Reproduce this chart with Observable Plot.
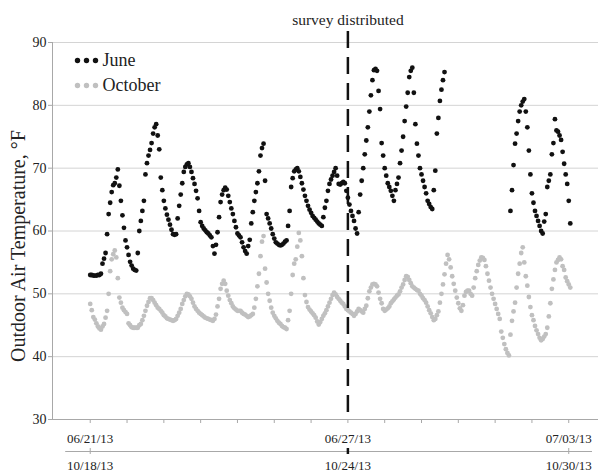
<!DOCTYPE html>
<html>
<head>
<meta charset="utf-8">
<script src="https://cdn.jsdelivr.net/npm/d3@7"></script>
<script src="https://cdn.jsdelivr.net/npm/@observablehq/plot@0.6"></script>
<style>
  html, body { margin: 0; padding: 0; background: #fff; }
  #chart svg { display: block; }
</style>
</head>
<body>
<div id="chart"></div>
<script>
// Hourly outdoor air temperature (°F), index = hours since start of first day
const june = [
  53.0,53.0,52.9,52.9,52.9,53.0,53.0,53.2,54.8,55.6,56.5,59.5,62.7,64.5,66.2,67.3,67.6,68.5,69.8,67.2,64.8,62.5,60.5,58.5,
  57.4,56.2,55.1,54.5,54.0,53.8,53.7,56.5,60.0,61.6,63.2,64.8,69.0,70.8,72.0,72.9,74.0,75.5,76.5,77.0,75.2,73.0,68.5,66.5,
  64.8,63.6,62.6,61.8,61.0,60.2,59.5,59.4,59.5,62.0,64.0,65.8,67.6,69.4,70.2,70.6,70.8,70.2,69.4,68.4,67.5,66.4,65.2,63.2,
  61.4,60.8,60.4,60.1,59.8,59.6,59.3,59.0,57.6,56.4,57.8,59.8,62.2,64.6,65.8,66.5,66.9,66.6,65.6,64.6,63.6,62.7,61.6,60.6,
  59.6,59.3,59.0,58.2,57.4,56.8,56.4,57.6,58.6,61.2,63.0,64.8,66.2,67.6,69.5,72.0,73.2,73.9,68.0,62.7,62.0,61.2,60.4,59.5,
  58.8,58.2,58.0,57.8,57.7,57.8,58.0,58.3,58.5,60.8,63.2,67.0,68.4,69.5,69.8,70.0,69.5,68.6,67.6,66.6,65.6,64.8,64.0,63.4,
  62.9,62.4,62.1,61.8,61.5,61.2,61.0,60.8,62.2,63.7,64.8,66.4,67.5,68.2,68.8,69.4,70.0,68.8,67.5,67.4,67.6,67.8,67.6,66.4,
  65.3,64.2,63.2,62.4,61.6,60.4,59.6,63.0,65.8,68.0,70.0,72.2,74.4,76.5,79.0,81.6,84.0,85.6,85.8,85.5,82.3,79.4,74.0,72.0,
  70.0,68.8,67.6,67.0,66.4,65.6,64.8,66.5,67.5,68.5,70.8,72.8,75.0,77.5,79.8,82.0,84.5,85.5,86.0,82.0,77.0,73.9,72.0,70.0,
  69.0,68.0,67.0,66.0,64.8,64.3,63.8,63.5,66.5,69.6,75.5,78.0,80.7,82.5,84.0,85.3,null,null,null,null,null,null,null,null,
  null,null,null,null,null,null,null,null,null,null,null,null,null,null,null,null,null,null,null,null,null,null,null,null,
  null,null,null,null,null,null,null,null,null,null,63.2,66.5,70.5,73.9,75.5,77.5,79.0,80.0,80.6,81.0,79.0,76.5,72.8,69.0,
  66.0,64.5,63.2,62.4,61.6,60.8,60.0,59.6,61.5,62.7,67.0,68.0,69.0,72.2,74.0,77.8,76.0,75.8,75.2,74.5,72.6,70.7,69.0,67.5,
  64.8,61.2
];
const october = [
  48.4,47.4,46.3,45.9,45.3,44.8,44.5,44.3,44.8,45.2,46.2,47.3,50.0,53.6,55.5,56.3,56.9,55.8,52.5,49.4,48.6,47.8,47.4,47.1,
  46.8,45.3,45.0,44.7,44.6,44.6,44.6,44.6,45.0,45.2,45.8,46.5,47.3,48.1,48.7,49.3,49.3,49.0,48.6,48.2,47.8,47.6,47.3,47.0,
  46.6,46.4,46.1,46.0,45.9,45.8,45.7,45.8,46.0,46.5,47.0,47.6,48.4,49.0,49.6,50.0,49.9,49.6,49.2,48.6,48.0,47.6,47.3,47.0,
  46.8,46.6,46.4,46.2,46.1,46.0,45.9,45.8,45.7,46.0,46.7,48.0,49.2,50.8,51.6,52.1,51.6,50.5,49.7,49.0,48.5,48.0,47.7,47.5,
  47.3,47.3,47.3,47.0,46.8,46.7,46.5,46.3,46.4,46.6,46.8,47.8,49.2,51.2,53.2,56.0,58.3,59.2,54.0,51.8,50.0,48.9,47.8,47.0,
  46.5,46.1,45.7,45.4,45.2,44.9,44.7,44.6,44.4,45.8,47.3,50.0,53.0,54.8,55.5,57.5,59.7,58.5,56.0,52.5,49.8,48.7,47.9,47.5,
  47.2,46.9,46.6,46.2,45.6,45.1,45.5,46.0,46.5,46.9,47.4,48.0,48.6,49.2,49.8,50.2,49.9,49.5,49.2,48.9,48.6,48.4,48.0,47.6,
  47.4,47.2,47.0,46.8,46.5,46.8,47.2,47.6,47.4,47.2,47.0,47.6,48.1,49.3,50.4,51.0,51.5,51.6,51.5,51.2,50.2,49.2,48.5,47.6,
  47.3,47.5,47.7,48.0,48.5,48.8,49.1,49.4,49.7,49.9,50.4,51.0,51.5,52.2,52.8,52.7,52.2,51.7,51.2,51.0,50.8,50.6,50.5,50.0,
  49.7,49.3,49.0,48.6,48.0,47.4,46.9,46.3,45.8,46.0,46.6,47.2,48.6,50.0,51.5,53.1,54.8,56.2,55.5,54.2,52.8,51.6,50.5,49.4,
  48.5,47.7,47.3,48.2,49.7,50.3,50.5,50.5,50.0,49.7,51.0,52.5,53.6,54.6,55.3,55.8,55.7,55.4,54.4,53.2,52.1,51.0,50.0,49.2,
  48.4,47.6,46.8,46.0,44.0,43.0,42.0,41.2,40.6,40.2,43.5,45.7,47.2,48.6,51.0,53.2,54.8,56.5,57.4,55.0,52.8,51.3,49.5,47.9,
  46.6,45.8,44.9,44.2,43.6,43.0,42.6,42.8,43.2,43.6,44.6,46.4,48.5,50.8,52.3,53.8,55.0,55.4,55.8,55.5,54.4,53.8,52.6,52.0,
  51.5,51.0
];

const seriesNames = ["June", "October"];
const seriesColors = ["#111111", "#c0c0c0"];
const yTicks = [30, 40, 50, 60, 70, 80, 90];
const dayTicks = d3.range(0, 313, 24);          // hours, one tick per day
const labelHours = [0, 168, 312];
const juneLabels = ["06/21/13", "06/27/13", "07/03/13"];
const octLabels = ["10/18/13", "10/24/13", "10/30/13"];
const surveyHour = 168;
const surveyLabel = "survey distributed";
const yTitle = "Outdoor Air Temperature, °F";
const xDomain = [-24.6, 331.4];

const serif = "'Liberation Serif', 'Times New Roman', Times, serif";
const axisGray = "#a8a8a8";
const textColor = "#222";

const legendMarks = seriesNames.flatMap((name, s) => [
  ...[0, 1, 2].map(k => Plot.dot([name], {
    frameAnchor: "top-left", dx: 25 + 9 * k, dy: 18 + 25 * s, r: 2.7, fill: seriesColors[s], stroke: "none"
  })),
  Plot.text([name], {
    frameAnchor: "top-left", dx: 50, dy: 18 + 25 * s, text: d => d, textAnchor: "start", lineAnchor: "middle",
    fontSize: 18, fontFamily: serif, fill: textColor
  })
]);

const toDots = (arr, color) => Plot.dot(arr, {
  x: (d, i) => i, y: d => d, filter: d => d != null, r: 2.4, fill: color, stroke: "none"
});

const chart = Plot.plot({
  width: 604, height: 473,
  marginLeft: 52, marginRight: 6, marginTop: 42, marginBottom: 54,
  x: { domain: xDomain },
  y: { domain: [30, 90] },
  style: { fontFamily: serif, background: "#fff", color: textColor, overflow: "visible" },
  marks: [
    Plot.gridY(yTicks.slice(1), { stroke: "#d4d4d4", strokeOpacity: 1 }),
    Plot.ruleX([xDomain[0]], { stroke: axisGray }),
    Plot.ruleY([30], { stroke: axisGray }),
    Plot.axisY(yTicks, { tickSize: 4, tickPadding: 2, fontSize: 14, fontFamily: serif, stroke: axisGray, fill: textColor, label: null }),
    Plot.axisX(dayTicks, { tickSize: 4, tickFormat: () => "", stroke: axisGray, label: null }),
    Plot.text([yTitle], { frameAnchor: "left", dx: -34, dy: 15, rotate: -90, textAnchor: "middle", lineAnchor: "middle",
      fontSize: 20, fontFamily: serif, fill: textColor, text: d => d }),
    // June date labels
    Plot.text(labelHours, { x: d => d, frameAnchor: "bottom", dy: 19, lineAnchor: "middle", text: (d, i) => juneLabels[i], fontSize: 13, fontFamily: serif, fill: textColor }),
    // October secondary axis
    Plot.ruleY([30], { x1: labelHours[0] - 16, x2: labelHours[2] + 15.5, dy: 32, stroke: axisGray }),
    Plot.ruleX(labelHours.filter(h => h !== surveyHour), { y1: 30, y2: 30, dy: 32, insetTop: -3, insetBottom: -3, stroke: axisGray }),
    Plot.ruleX([surveyHour], { y1: 30, y2: 30, dy: 32, insetTop: -3, insetBottom: -3, stroke: "#111", strokeWidth: 2.5 }),
    Plot.text(labelHours, { x: d => d, frameAnchor: "bottom", dy: 46, lineAnchor: "middle", text: (d, i) => octLabels[i], fontSize: 13, fontFamily: serif, fill: textColor }),
    // data
    toDots(june, seriesColors[0]),
    toDots(october, seriesColors[1]),
    // survey line
    Plot.ruleX([surveyHour], { stroke: "#111", strokeWidth: 2.5, strokeDasharray: "17,9", insetTop: -11, insetBottom: -2 }),
    Plot.text([surveyLabel], { x: () => surveyHour, frameAnchor: "top", dy: -22, lineAnchor: "middle", text: d => d, fontSize: 15.5, fontFamily: serif, fill: textColor }),
    ...legendMarks
  ]
});
document.getElementById("chart").append(chart);
</script>
</body>
</html>
